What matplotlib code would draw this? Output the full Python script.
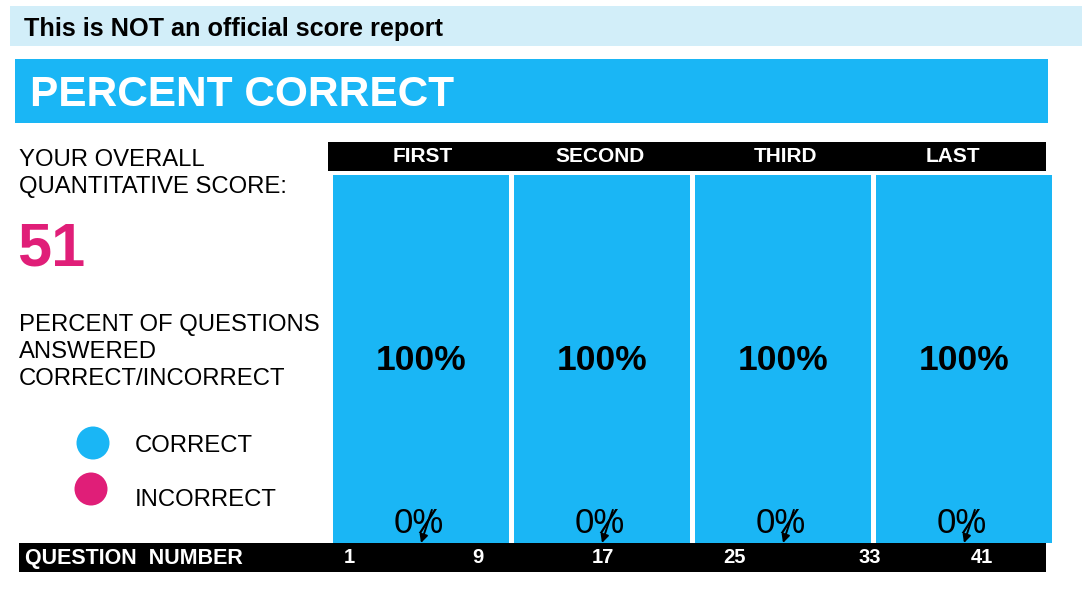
import matplotlib
matplotlib.use("Agg")
import matplotlib.pyplot as plt
from matplotlib.patches import Rectangle, Circle

plt.rcParams['font.family'] = ['Liberation Sans', 'DejaVu Sans']

# data
sections = ['FIRST', 'SECOND', 'THIRD', 'LAST']
correct_pct = [100, 100, 100, 100]
incorrect_pct = [0, 0, 0, 0]
overall_score = 51
question_numbers = [1, 9, 17, 25, 33, 41]

# layout (pixels)
header_label_x = [423, 600, 786, 953]
question_label_x = [349, 478, 603, 734, 870, 982]

blue = '#1AB6F5'
magenta = '#E01E78'
pale = '#D2EEF9'

W, H = 1082, 600
fig = plt.figure(figsize=(W / 100, H / 100), dpi=100)
fig.patch.set_facecolor('white')

# background axes in pixel coordinates
bg = fig.add_axes([0, 0, 1, 1])
bg.set_xlim(0, W)
bg.set_ylim(H, 0)
bg.axis('off')


def label(x, y, s, size=17.2, **kw):
    # y is the visual centre of capitals, so place on baseline
    bg.text(x, y + 0.36 * size * 100 / 72, s, fontsize=size, ha=kw.pop('ha', 'left'),
            va='baseline', **kw)


# top banners
bg.add_patch(Rectangle((10, 6), W - 10, 40, facecolor=pale, edgecolor='none'))
label(24, 27, 'This is NOT an official score report', size=18.2,
      fontweight='bold', color='black')
bg.add_patch(Rectangle((15, 59), 1033, 64, facecolor=blue, edgecolor='none'))
label(30, 91, 'PERCENT CORRECT', size=30.5, fontweight='bold', color='white')

# left column
label(19, 157, 'YOUR OVERALL')
label(19, 184, 'QUANTITATIVE SCORE:')
label(17, 244, str(overall_score), size=44, fontweight='bold', color=magenta)
label(19, 322, 'PERCENT OF QUESTIONS')
label(19, 349, 'ANSWERED')
label(19, 376, 'CORRECT/INCORRECT')

# legend
bg.add_patch(Circle((93, 443), 16.5, facecolor=blue, edgecolor='none'))
bg.add_patch(Circle((91, 489), 16.5, facecolor=magenta, edgecolor='none'))
label(135, 443, 'CORRECT')
label(135, 497, 'INCORRECT')

# header bar
bg.add_patch(Rectangle((328, 142), 718, 29, facecolor='black', edgecolor='none'))
for x, name in zip(header_label_x, sections):
    label(x, 155, name, size=15, fontweight='bold', color='white', ha='center')

# bottom bar
bg.add_patch(Rectangle((19, 543), 1027, 29, facecolor='black', edgecolor='none'))
label(25, 556, 'QUESTION  NUMBER', size=15.5, fontweight='bold', color='white')
for x, q in zip(question_label_x, question_numbers):
    label(x, 556, str(q), size=14.5, fontweight='bold', color='white', ha='center')

# bar axes
left_px, right_px = 330.5, 1054.5
top_px, bot_px = 175, 543
ax = fig.add_axes([left_px / W, 1 - bot_px / H,
                   (right_px - left_px) / W, (bot_px - top_px) / H])
ax.set_xlim(-0.5, len(sections) - 0.5)
ax.set_ylim(0, 100)
ax.axis('off')
ax.patch.set_alpha(0)

xs = list(range(len(sections)))
width = 176 / 181
ax.bar(xs, incorrect_pct, width=width, color=magenta)
ax.bar(xs, correct_pct, width=width, bottom=incorrect_pct, color=blue)

for x, c, ic in zip(xs, correct_pct, incorrect_pct):
    ax.text(x, ic + c / 2 - 0.5, f'{c}%', fontsize=25.5, fontweight='bold',
            ha='center', va='center', color='black')
    ax.text(x - 0.01, ic + 5.2, f'{ic}%', fontsize=25, ha='center',
            va='center', color='black')
    ax.annotate('', xy=(x, ic), xytext=(x + 0.06, ic + 9),
                arrowprops=dict(arrowstyle='-|>', color='black', lw=1.4,
                                mutation_scale=12, shrinkA=0, shrinkB=0))

fig.savefig('out.png', dpi=100)
